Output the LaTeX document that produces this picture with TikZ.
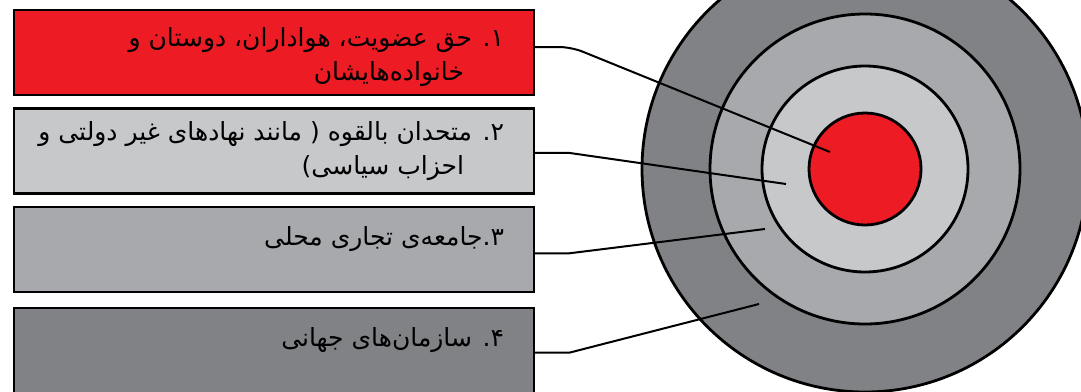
\documentclass[tikz,border=0pt]{standalone}
\usepackage{fontspec}
\usetikzlibrary{positioning,calc}
\TeXXeTstate=1
\newfontfamily\farsifont[Script=Arabic]{DejaVu Sans}
\definecolor{targetred}{RGB}{237,28,36}
\definecolor{ringlight}{RGB}{199,200,202}
\definecolor{ringmid}{RGB}{167,169,172}
\definecolor{ringdark}{RGB}{128,130,133}
\tikzset{
  stakebox/.style={draw=black, line width=2.4pt, minimum width=520pt, minimum height=85pt,
                   inner sep=0pt},
  stakelbl/.style={anchor=east, align=right, inner sep=0pt,
                   font=\farsifont\fontsize{25}{34}\selectfont},
  ring/.style={circle, draw=black, line width=2.8pt, inner sep=0pt},
  leader/.style={line width=2pt, black}
}

\begin{document}
\begin{tikzpicture}[x=1pt, y=-1pt, node distance=11pt]
\useasboundingbox (0,0) rectangle (1081,391);
\node[ring, fill=ringdark, minimum size=446pt] (r4) at (865,169) {};
\node[ring, fill=ringmid, minimum size=310pt] (r3) at (r4.center) {};
\node[ring, fill=ringlight, minimum size=206pt] (r2) at (r4.center) {};
\node[ring, fill=targetred, minimum size=112pt] (r1) at (r4.center) {};

\node[stakebox, fill=targetred] (b1) at (274,52.5) {};
\node[stakebox, fill=ringlight, below=of b1] (b2) {};
\node[stakebox, fill=ringmid, below=of b2] (b3) {};
\node[stakebox, fill=ringdark, below=14pt of b3] (b4) {};

\node[stakelbl] (t1) at ([xshift=-31pt,yshift=-5pt]b1.east) {\beginR ۱. حق عضویت، هواداران، دوستان و\endR\\\beginR خانواده^^^^200cهایشان\endR\kern40pt};
\node[stakelbl] (t2) at ([xshift=-31pt,yshift=0pt]b2.east) {\beginR ۲. متحدان بالقوه ( مانند نهادهای غیر دولتی و\endR\\\beginR احزاب سیاسی)\endR\kern40pt};
\node[stakelbl] (t3) at ([xshift=-31pt,yshift=10pt]b3.east) {\beginR ۳.جامعه^^^^200cی تجاری محلی\endR};
\node[stakelbl] (t4) at ([xshift=-31pt,yshift=11pt]b4.east) {\beginR ۴. سازمان^^^^200cهای جهانی\endR};

\coordinate (e1) at (830,152);
\coordinate (e2) at (786,184);
\coordinate (e3) at (765,229);
\coordinate (e4) at (759,304);
\draw[leader, rounded corners=12pt] ([yshift=5.5pt]b1.east) -- ++(36,0) -- (e1);
\draw[leader] ([yshift=-2pt]b2.east) -- ++(34,0) -- (e2);
\draw[leader] ([yshift=-4pt]b3.east) -- ++(34,0) -- (e3);
\draw[leader] ([yshift=-2pt]b4.east) -- ++(34,0) -- (e4);
\end{tikzpicture}
\end{document}
